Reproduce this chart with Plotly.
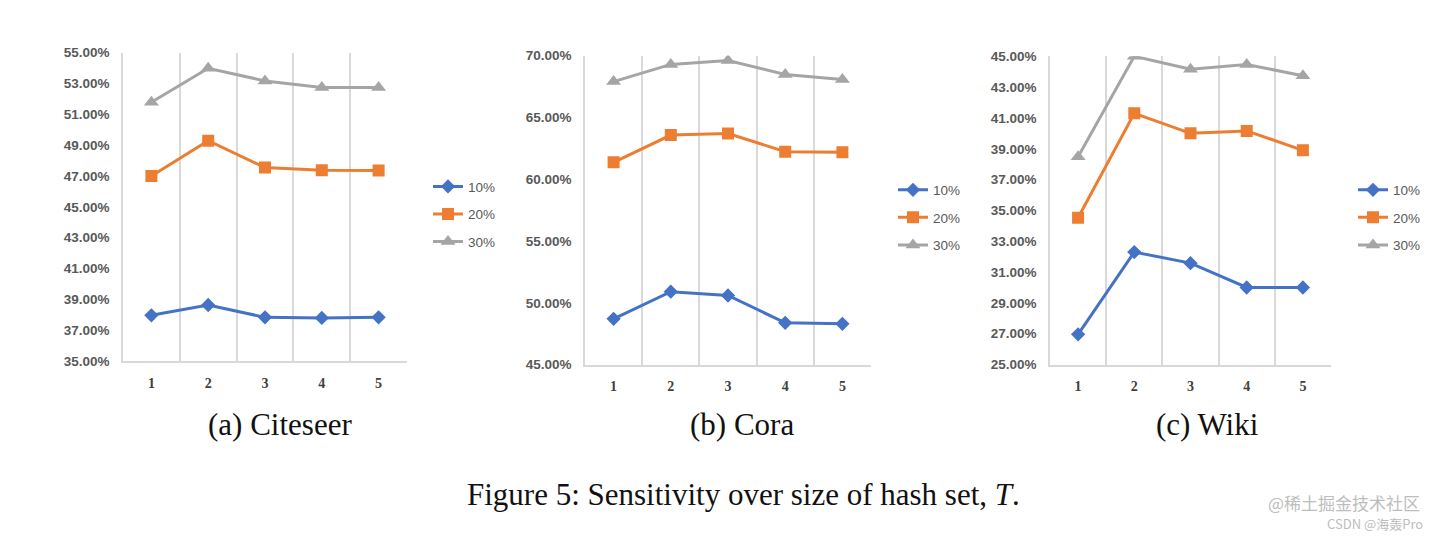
import plotly.graph_objects as go

# ---------------- data ----------------
hash_sizes = [1, 2, 3, 4, 5]
series_names = ["10%", "20%", "30%"]

citeseer_10 = [37.96, 38.63, 37.83, 37.79, 37.83]
citeseer_20 = [47.00, 49.29, 47.55, 47.38, 47.36]
citeseer_30 = [51.79, 53.99, 53.17, 52.75, 52.75]

cora_10 = [48.70, 50.90, 50.59, 48.38, 48.30]
cora_20 = [61.37, 63.57, 63.70, 62.23, 62.18]
cora_30 = [67.90, 69.29, 69.61, 68.48, 68.06]

wiki_10 = [26.96, 32.30, 31.58, 30.00, 30.00]
wiki_20 = [34.53, 41.30, 40.00, 40.16, 38.90]
wiki_30 = [38.48, 45.00, 44.16, 44.47, 43.74]

panel_titles = ["(a) Citeseer", "(b) Cora", "(c) Wiki"]
caption = "Figure 5: Sensitivity over size of hash set, <i>T</i>."
y_ranges = [(35, 55, 2), (45, 70, 5), (25, 45, 2)]

# ---------------- style ----------------
W, H = 1440, 544
colors = ["#4472C4", "#ED7D31", "#A5A5A5"]
symbols = ["diamond", "square", "triangle-up"]
msizes = [11, 12, 13]
grid_col = "#D9D9D9"

# pixel boxes (left, right, top, bottom)
boxes = [(123, 407, 47, 364), (585, 871, 50, 367.7), (1050, 1331, 50.7, 367.7)]
legend_pos = [(428, 213), (893, 216.5), (1353, 216.5)]
title_x = [280, 742, 1207]

fig = go.Figure()
panels = [
    [citeseer_10, citeseer_20, citeseer_30],
    [cora_10, cora_20, cora_30],
    [wiki_10, wiki_20, wiki_30],
]

for p, data in enumerate(panels):
    ax = "" if p == 0 else str(p + 1)
    leg = "legend" if p == 0 else f"legend{p + 1}"
    for s, vals in enumerate(data):
        fig.add_trace(go.Scatter(
            x=hash_sizes, y=vals, name=series_names[s],
            mode="lines+markers",
            line=dict(color=colors[s], width=3),
            marker=dict(symbol=symbols[s], size=msizes[s], color=colors[s]),
            xaxis="x" + ax, yaxis="y" + ax,
            legend=leg, legendgroup=f"p{p}s{s}",
        ))

layout = dict(
    width=W, height=H,
    margin=dict(l=0, r=0, t=0, b=0),
    paper_bgcolor="white", plot_bgcolor="white",
    showlegend=True,
    annotations=[],
)

for p in range(3):
    l, r, t, b = boxes[p]
    ax = "" if p == 0 else str(p + 1)
    lo, hi, dt = y_ranges[p]
    layout["xaxis" + ax] = dict(
        domain=[l / W, r / W], anchor="y" + ax,
        range=[0.5, 5.5], tickmode="array", tickvals=hash_sizes,
        ticktext=[str(v) for v in hash_sizes],
        showgrid=False, zeroline=False,
        showline=True, linecolor=grid_col, linewidth=1.5,
        ticks="", ticklabelstandoff=8,
        tickfont=dict(family="Liberation Serif", size=14, color="#404040", weight="bold"),
        minor=dict(tickmode="array", tickvals=[1.5, 2.5, 3.5, 4.5, 5.5],
                   showgrid=True, gridcolor=grid_col, gridwidth=1.5),
        fixedrange=True,
    )
    layout["yaxis" + ax] = dict(
        domain=[1 - b / H, 1 - t / H], anchor="x" + ax,
        range=[lo, hi], tickmode="linear", tick0=lo, dtick=dt,
        tickformat=".2f", ticksuffix="%",
        showgrid=False, zeroline=False,
        showline=True, linecolor=grid_col, linewidth=1.5,
        ticks="", ticklabelstandoff=9,
        tickfont=dict(family="Liberation Sans", size=13.5, color="#595959", weight="bold"),
        fixedrange=True,
    )
    leg = "legend" if p == 0 else f"legend{p + 1}"
    lx, ly = legend_pos[p]
    layout[leg] = dict(
        x=lx / W, y=1 - ly / H, xanchor="left", yanchor="middle",
        font=dict(family="Liberation Sans", size=13.5, color="#595959"),
        bgcolor="rgba(0,0,0,0)", tracegroupgap=7, itemwidth=30,
    )
    layout["annotations"].append(dict(
        text=panel_titles[p], x=title_x[p] / W, y=1 - 429 / H,
        xref="paper", yref="paper", xanchor="center", yanchor="middle",
        showarrow=False,
        font=dict(family="Liberation Serif", size=31, color="#111111"),
    ))

layout["annotations"].append(dict(
    text=caption, x=743 / W, y=1 - 501 / H, xref="paper", yref="paper",
    xanchor="center", yanchor="middle", showarrow=False,
    font=dict(family="Liberation Serif", size=31, color="#111111"),
))
layout["annotations"].append(dict(
    text="@稀土掘金技术社区", x=1422 / W, y=1 - 510 / H, xref="paper", yref="paper",
    xanchor="right", yanchor="middle", showarrow=False,
    font=dict(family="Noto Sans CJK SC", size=17, color="#BDBDBD"),
))
layout["annotations"].append(dict(
    text="CSDN @海轰Pro", x=1425 / W, y=1 - 531 / H, xref="paper", yref="paper",
    xanchor="right", yanchor="middle", showarrow=False,
    font=dict(family="Noto Sans CJK SC", size=13, color="#BDBDBD"),
))

fig.update_layout(**layout)
fig.write_html("out.html")
